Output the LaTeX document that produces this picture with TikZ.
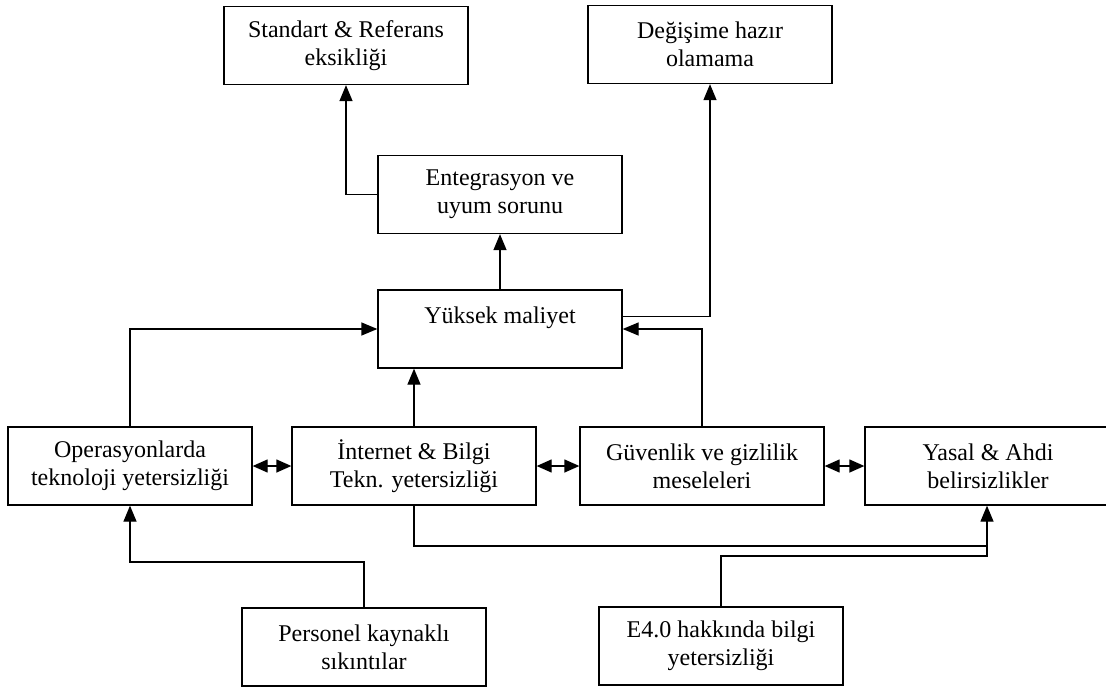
\documentclass[tikz,border=0pt]{standalone}
\usepackage{fontspec}
\setmainfont{Liberation Serif}
\usetikzlibrary{arrows.meta}
\begin{document}
\begin{tikzpicture}[x=1pt,y=-1pt,
  box/.style={draw, line width=1.3pt, minimum width=244pt, minimum height=78pt, inner sep=0pt, align=center, font=\fontsize{24}{28}\selectfont},
  conn/.style={line width=1.3pt},
  arr/.style={conn, -{Triangle[length=16pt,width=13pt]}},
  darr/.style={conn, {Triangle[length=15pt,width=13pt]}-{Triangle[length=15pt,width=13pt]}}]
\useasboundingbox (0,0) rectangle (1106,688);
\node[box] (S) at (346,45.5) {Standart \& Referans\\eksikliği};
\node[box] (D) at (710,44.5) {Değişime hazır\\olamama};
\node[box] (E) at (500,194.5) {Entegrasyon ve\\uyum sorunu};
\node[box] (Y) at (500,329) {Yüksek maliyet\\\phantom{X}};
\node[box] (O) at (130,466) {Operasyonlarda\\teknoloji yetersizliği};
\node[box] (I) at (414,466) {İnternet \& Bilgi\\Tekn. yetersizliği};
\node[box] (G) at (702,466) {Güvenlik ve gizlilik\\meseleleri};
\node[box, minimum width=246pt] (A) at (988,466) {Yasal \& Ahdi\\belirsizlikler};
\node[box] (P) at (364,647) {Personel kaynaklı\\sıkıntılar};
\node[box] (K) at (721,646) {E4.0 hakkında bilgi\\yetersizliği};
\coordinate (j1) at (987,546);
\coordinate (j2) at (987,556);
\coordinate (j3) at (364,562);
\draw[arr] (E.west) -| (S.south);
\draw[arr] (Y.north) -- (E.south);
\draw[arr] ([yshift=12.3pt]Y.east) -| (D.south);
\draw[arr] (G.north) |- (Y.east);
\draw[arr] (O.north) |- (Y.west);
\draw[arr] (I.north) -- (I.north |- Y.south);
\draw[darr] (O.east) -- (I.west);
\draw[darr] (I.east) -- (G.west);
\draw[darr] (G.east) -- (A.west);
\draw[arr] (I.south) |- (j1) -- (j1 |- A.south);
\draw[conn] (K.north) |- (j2) -- (j1);
\draw[arr] (P.north) -- (j3) -| (O.south);
\end{tikzpicture}
\end{document}
